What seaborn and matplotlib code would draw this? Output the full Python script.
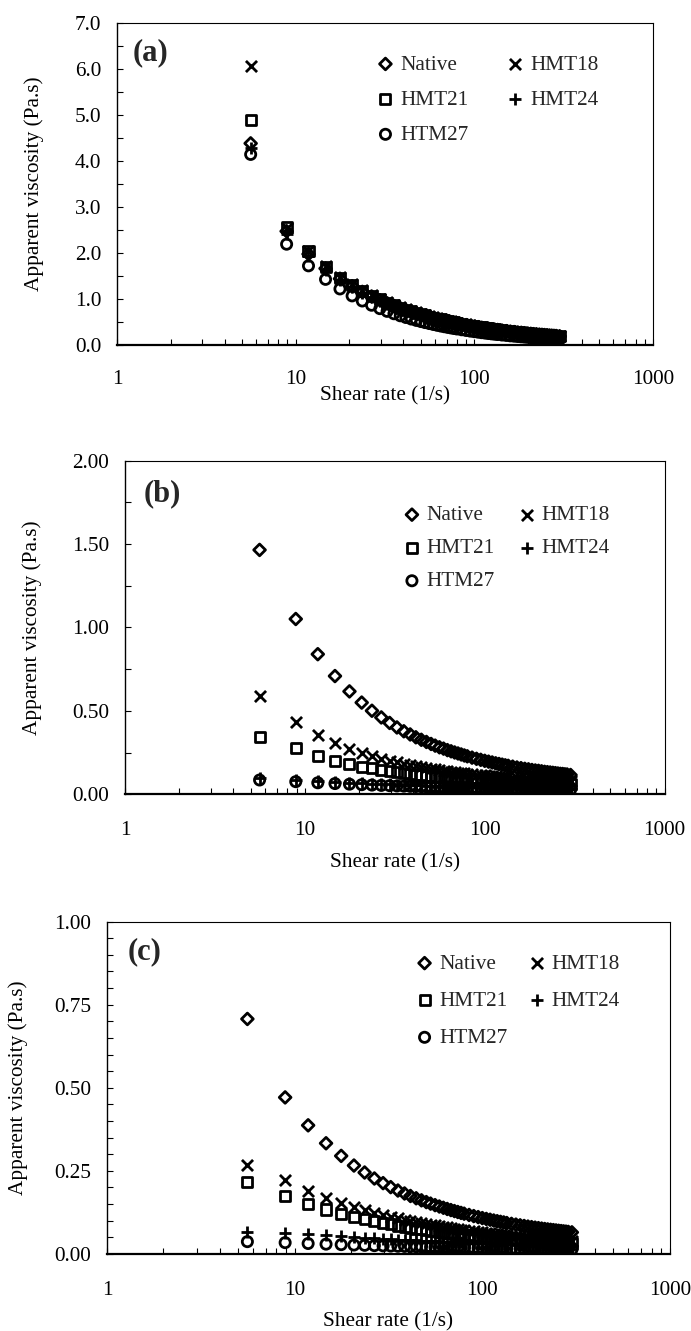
import numpy as np
import pandas as pd
import matplotlib
matplotlib.use('Agg')
import matplotlib.pyplot as plt
from matplotlib.ticker import (MultipleLocator, FixedLocator, FuncFormatter,
                               NullFormatter, LogLocator, FormatStrFormatter)
import seaborn as sns

# shear rate (1/s), same sweep for every sample
shear_rate = [5.6, 8.9, 11.8, 14.7, 17.7, 20.7, 23.6, 26.6, 29.6, 32.5, 35.5, 38.5, 41.4, 44.4,
              47.4, 50.3, 53, 56, 59, 62, 65, 68, 71, 74, 77, 80, 85, 90, 95, 100, 105, 110, 115,
              120, 125, 130, 135, 143, 151, 159, 167, 175, 183, 191, 199, 207, 215, 223, 231,
              239, 247, 255, 263, 271, 279, 287, 300]

# (a)
native_a = [4.38, 2.471, 1.975, 1.662, 1.439, 1.276, 1.154, 1.054, 0.973, 0.907, 0.849, 0.799,
            0.758, 0.719, 0.686, 0.657, 0.632, 0.608, 0.584, 0.564, 0.546, 0.527, 0.512, 0.497,
            0.483, 0.470, 0.450, 0.432, 0.416, 0.401, 0.388, 0.375, 0.363, 0.353, 0.343, 0.334,
            0.326, 0.313, 0.301, 0.291, 0.281, 0.272, 0.265, 0.257, 0.250, 0.243, 0.236, 0.231,
            0.226, 0.221, 0.216, 0.211, 0.207, 0.203, 0.199, 0.196, 0.190]
hmt18_a = [6.05, 2.55, 2.038, 1.715, 1.485, 1.317, 1.191, 1.088, 1.004, 0.936, 0.876, 0.825,
           0.782, 0.742, 0.708, 0.678, 0.652, 0.627, 0.603, 0.582, 0.563, 0.544, 0.528, 0.513,
           0.498, 0.485, 0.464, 0.446, 0.429, 0.414, 0.400, 0.387, 0.375, 0.364, 0.354, 0.345,
           0.336, 0.323, 0.311, 0.300, 0.290, 0.281, 0.273, 0.265, 0.258, 0.251, 0.244, 0.238,
           0.233, 0.228, 0.223, 0.218, 0.214, 0.209, 0.205, 0.202, 0.196]
hmt21_a = [4.89, 2.57, 2.05, 1.689, 1.463, 1.297, 1.173, 1.072, 0.989, 0.922, 0.863, 0.813,
           0.770, 0.731, 0.697, 0.668, 0.642, 0.618, 0.594, 0.573, 0.555, 0.536, 0.520, 0.505,
           0.491, 0.478, 0.457, 0.439, 0.423, 0.408, 0.394, 0.381, 0.369, 0.359, 0.349, 0.340,
           0.331, 0.318, 0.306, 0.296, 0.286, 0.277, 0.269, 0.261, 0.254, 0.247, 0.240, 0.234,
           0.230, 0.225, 0.220, 0.215, 0.211, 0.206, 0.202, 0.199, 0.193]
hmt24_a = [4.27, 2.420, 1.934, 1.628, 1.409, 1.250, 1.130, 1.033, 0.953, 0.888, 0.831, 0.783,
           0.742, 0.704, 0.672, 0.643, 0.619, 0.595, 0.572, 0.552, 0.534, 0.516, 0.501, 0.487,
           0.473, 0.460, 0.440, 0.423, 0.407, 0.393, 0.380, 0.367, 0.356, 0.345, 0.336, 0.327,
           0.319, 0.307, 0.295, 0.285, 0.275, 0.267, 0.259, 0.251, 0.245, 0.238, 0.232, 0.226,
           0.221, 0.216, 0.212, 0.207, 0.203, 0.198, 0.195, 0.192, 0.186]
htm27_a = [4.14, 2.19, 1.720, 1.426, 1.218, 1.067, 0.956, 0.864, 0.790, 0.731, 0.679, 0.635,
           0.598, 0.564, 0.534, 0.509, 0.487, 0.466, 0.446, 0.428, 0.412, 0.397, 0.383, 0.371,
           0.359, 0.348, 0.331, 0.316, 0.302, 0.290, 0.279, 0.268, 0.259, 0.250, 0.242, 0.235,
           0.228, 0.217, 0.208, 0.199, 0.192, 0.185, 0.178, 0.172, 0.167, 0.161, 0.157, 0.152,
           0.148, 0.144, 0.140, 0.137, 0.134, 0.130, 0.127, 0.125, 0.120]

# (b)
native_b = [1.465, 1.051, 0.840, 0.709, 0.617, 0.550, 0.501, 0.461, 0.428, 0.401, 0.378, 0.359,
            0.342, 0.327, 0.314, 0.302, 0.292, 0.282, 0.274, 0.265, 0.258, 0.251, 0.245, 0.239,
            0.233, 0.228, 0.220, 0.213, 0.207, 0.201, 0.196, 0.191, 0.186, 0.182, 0.178, 0.174,
            0.171, 0.166, 0.161, 0.157, 0.153, 0.150, 0.146, 0.143, 0.141, 0.138, 0.135, 0.133,
            0.131, 0.129, 0.127, 0.125, 0.123, 0.122, 0.120, 0.119, 0.116]
hmt18_b = [0.589, 0.435, 0.357, 0.308, 0.273, 0.248, 0.230, 0.214, 0.2015, 0.1914, 0.1825,
           0.1749, 0.1684, 0.1626, 0.1574, 0.1529, 0.1491, 0.1452, 0.1417, 0.1385, 0.1356,
           0.1329, 0.1304, 0.1281, 0.1259, 0.1239, 0.1208, 0.1180, 0.1155, 0.1132, 0.1111,
           0.1091, 0.1073, 0.1056, 0.1041, 0.1026, 0.1013, 0.0993, 0.0975, 0.0958, 0.0943,
           0.0929, 0.0917, 0.0905, 0.0894, 0.0883, 0.0874, 0.0865, 0.0856, 0.0848, 0.0841,
           0.0834, 0.0827, 0.0821, 0.0815, 0.0809, 0.0801]
hmt21_b = [0.345, 0.276, 0.231, 0.2024, 0.1818, 0.1667, 0.1553, 0.1459, 0.1382, 0.1319, 0.1264,
           0.1216, 0.1175, 0.1139, 0.1105, 0.1077, 0.1053, 0.1028, 0.1006, 0.0986, 0.0967,
           0.0949, 0.0933, 0.0918, 0.0904, 0.0891, 0.0871, 0.0852, 0.0836, 0.0821, 0.0807,
           0.0794, 0.0782, 0.0771, 0.0761, 0.0751, 0.0742, 0.0729, 0.0717, 0.0706, 0.0695,
           0.0686, 0.0678, 0.0670, 0.0662, 0.0655, 0.0649, 0.0643, 0.0637, 0.0631, 0.0626,
           0.0621, 0.0617, 0.0613, 0.0609, 0.0605, 0.0599]
hmt24_b = [0.100, 0.0880, 0.0802, 0.0748, 0.0705, 0.0671, 0.0644, 0.0621, 0.0600, 0.0584, 0.0568,
           0.0554, 0.0543, 0.0531, 0.0521, 0.0512, 0.0504, 0.0496, 0.0489, 0.0482, 0.0475,
           0.0469, 0.0463, 0.0458, 0.0452, 0.0447, 0.0440, 0.0433, 0.0426, 0.0420, 0.0414,
           0.0409, 0.0404, 0.0399, 0.0395, 0.0390, 0.0386, 0.0380, 0.0375, 0.0369, 0.0365,
           0.0360, 0.0356, 0.0351, 0.0348, 0.0344, 0.0340, 0.0337, 0.0334, 0.0331, 0.0328,
           0.0326, 0.0323, 0.0320, 0.0318, 0.0316, 0.0312]
htm27_b = [0.086, 0.0760, 0.0693, 0.0646, 0.0609, 0.0579, 0.0556, 0.0536, 0.0519, 0.0504, 0.0491,
           0.0479, 0.0469, 0.0459, 0.0450, 0.0442, 0.0435, 0.0428, 0.0422, 0.0416, 0.0410,
           0.0405, 0.0400, 0.0395, 0.0391, 0.0386, 0.0380, 0.0374, 0.0368, 0.0363, 0.0358,
           0.0353, 0.0349, 0.0345, 0.0341, 0.0337, 0.0334, 0.0328, 0.0324, 0.0319, 0.0315,
           0.0311, 0.0307, 0.0304, 0.0300, 0.0297, 0.0294, 0.0291, 0.0288, 0.0286, 0.0283,
           0.0281, 0.0279, 0.0277, 0.0275, 0.0273, 0.0269]

# (c)
native_c = [0.707, 0.471, 0.387, 0.333, 0.295, 0.266, 0.245, 0.227, 0.213, 0.201, 0.1908,
            0.1819, 0.1744, 0.1675, 0.1613, 0.1560, 0.1514, 0.1468, 0.1427, 0.1389, 0.1353,
            0.1320, 0.1290, 0.1262, 0.1235, 0.1211, 0.1173, 0.1139, 0.1108, 0.1079, 0.1053,
            0.1029, 0.1006, 0.0985, 0.0966, 0.0948, 0.0930, 0.0905, 0.0882, 0.0861, 0.0841,
            0.0823, 0.0807, 0.0791, 0.0777, 0.0763, 0.0750, 0.0738, 0.0727, 0.0717, 0.0707,
            0.0697, 0.0688, 0.0679, 0.0671, 0.0663, 0.0650]
hmt18_c = [0.268, 0.221, 0.1898, 0.1688, 0.1531, 0.1411, 0.1319, 0.1240, 0.1175, 0.1121, 0.1072,
           0.1030, 0.0993, 0.0959, 0.0929, 0.0902, 0.0879, 0.0856, 0.0835, 0.0815, 0.0797,
           0.0779, 0.0764, 0.0749, 0.0735, 0.0721, 0.0701, 0.0682, 0.0665, 0.0649, 0.0635,
           0.0621, 0.0609, 0.0597, 0.0585, 0.0575, 0.0565, 0.0551, 0.0537, 0.0525, 0.0513,
           0.0503, 0.0492, 0.0483, 0.0474, 0.0466, 0.0458, 0.0451, 0.0444, 0.0437, 0.0431,
           0.0425, 0.0419, 0.0414, 0.0409, 0.0404, 0.0396]
hmt21_c = [0.215, 0.175, 0.1503, 0.1337, 0.1212, 0.1117, 0.1044, 0.0982, 0.0930, 0.0887, 0.0849,
           0.0815, 0.0786, 0.0760, 0.0736, 0.0715, 0.0696, 0.0678, 0.0661, 0.0645, 0.0631,
           0.0617, 0.0605, 0.0593, 0.0582, 0.0571, 0.0555, 0.0540, 0.0527, 0.0514, 0.0503,
           0.0492, 0.0482, 0.0473, 0.0464, 0.0455, 0.0447, 0.0436, 0.0425, 0.0415, 0.0406,
           0.0398, 0.0390, 0.0383, 0.0376, 0.0369, 0.0363, 0.0357, 0.0352, 0.0346, 0.0341,
           0.0337, 0.0332, 0.0328, 0.0324, 0.0320, 0.0314]
hmt24_c = [0.067, 0.0640, 0.0591, 0.0556, 0.0528, 0.0505, 0.0487, 0.0471, 0.0457, 0.0445, 0.0434,
           0.0425, 0.0416, 0.0408, 0.0401, 0.0394, 0.0388, 0.0382, 0.0377, 0.0372, 0.0367,
           0.0362, 0.0358, 0.0354, 0.0350, 0.0346, 0.0340, 0.0335, 0.0330, 0.0325, 0.0321,
           0.0317, 0.0313, 0.0309, 0.0305, 0.0302, 0.0299, 0.0294, 0.0290, 0.0286, 0.0282,
           0.0278, 0.0274, 0.0271, 0.0268, 0.0265, 0.0262, 0.0260, 0.0257, 0.0255, 0.0252,
           0.0250, 0.0248, 0.0246, 0.0244, 0.0242, 0.0239]
htm27_c = [0.037, 0.0340, 0.0314, 0.0295, 0.0280, 0.0268, 0.0259, 0.0250, 0.0243, 0.0237, 0.0231,
           0.0226, 0.0221, 0.0217, 0.0213, 0.0209, 0.0206, 0.0203, 0.0200, 0.0197, 0.0195,
           0.0192, 0.0190, 0.0188, 0.0186, 0.0184, 0.0181, 0.0178, 0.0175, 0.0173, 0.0170,
           0.0168, 0.0166, 0.0164, 0.0162, 0.0160, 0.0159, 0.0156, 0.0154, 0.0152, 0.0150,
           0.0148, 0.0146, 0.0144, 0.0142, 0.0141, 0.0139, 0.0138, 0.0137, 0.0135, 0.0134,
           0.0133, 0.0132, 0.0131, 0.0130, 0.0129, 0.0127]

samples = ['Native', 'HMT18', 'HMT21', 'HMT24', 'HTM27']
marker_of = {'Native': 'D', 'HMT18': 'x', 'HMT21': 's', 'HMT24': '+', 'HTM27': 'o'}
size_of = {'Native': 36, 'HMT18': 64, 'HMT21': 52, 'HMT24': 72, 'HTM27': 54}
legend_order = ['Native', 'HMT21', 'HTM27', 'HMT18', 'HMT24']  # column-wise fill

panels = [
    dict(tag='(a)', data=dict(zip(samples, [native_a, hmt18_a, hmt21_a, hmt24_a, htm27_a])),
         ymax=7.0, major=1.0, minor=0.5, fmt='%.1f',
         rect=[0.1693, 0.7408, 0.7757, 0.2421], tagpos=(0.03, 0.907),
         leg=(0.485, 0.901), colsp=1.8, labsp=0.72, xpad=18, xlab=-0.127, ylab=-0.136),
    dict(tag='(b)', data=dict(zip(samples, [native_b, hmt18_b, hmt21_b, hmt24_b, htm27_b])),
         ymax=2.0, major=0.5, minor=0.25, fmt='%.2f',
         rect=[0.1809, 0.4032, 0.7809, 0.2507], tagpos=(0.035, 0.902),
         leg=(0.516, 0.866), colsp=1.08, labsp=0.62, xpad=19.5, xlab=-0.177, ylab=-0.154),
    dict(tag='(c)', data=dict(zip(samples, [native_c, hmt18_c, hmt21_c, hmt24_c, htm27_c])),
         ymax=1.0, major=0.25, minor=0.05, fmt='%.2f',
         rect=[0.1548, 0.0579, 0.8148, 0.2497], tagpos=(0.037, 0.91),
         leg=(0.549, 0.903), colsp=0.96, labsp=0.81, xpad=19.5, xlab=-0.174, ylab=-0.141),
]

sns.set_style('ticks')
plt.rcParams['font.family'] = ['Liberation Serif', 'DejaVu Serif']
fs = 15.3

fig = plt.figure(figsize=(6.91, 13.31), dpi=100)

for p in panels:
    ax = fig.add_axes(p['rect'])
    for name in samples:
        df = pd.DataFrame({'rate': shear_rate, 'visc': p['data'][name]})
        kws = dict(marker=marker_of[name], s=size_of[name], linewidth=2.0,
                   label=name, legend=False, zorder=3, ax=ax)
        if name in ('HMT18', 'HMT24'):
            kws['color'] = 'black'
        else:
            kws.update(color='black', facecolor='none', edgecolor='black')
        sns.scatterplot(data=df, x='rate', y='visc', **kws)

    ax.set_xscale('log')
    ax.set_xlim(1, 1000)
    ax.xaxis.set_major_locator(FixedLocator([1, 10, 100, 1000]))
    ax.xaxis.set_major_formatter(FuncFormatter(lambda v, pos: f'{v:g}'))
    ax.xaxis.set_minor_locator(LogLocator(base=10, subs=np.arange(2, 10)))
    ax.xaxis.set_minor_formatter(NullFormatter())

    ax.set_ylim(0, p['ymax'])
    ax.yaxis.set_major_locator(MultipleLocator(p['major']))
    ax.yaxis.set_minor_locator(MultipleLocator(p['minor']))
    ax.yaxis.set_major_formatter(FormatStrFormatter(p['fmt']))

    ax.tick_params(which='both', direction='in', length=4, width=0.8, color='black',
                   labelcolor='black', labelsize=fs, top=False, right=False)
    ax.tick_params(axis='x', which='both', pad=p['xpad'])
    ax.tick_params(axis='y', which='both', pad=11.5)

    for side, sp in ax.spines.items():
        sp.set_visible(True)
        sp.set_color('black')
        sp.set_linewidth(0.8)
    ax.spines['bottom'].set_linewidth(1.6)
    ax.spines['left'].set_linewidth(1.0)

    ax.set_xlabel('Shear rate (1/s)', fontsize=fs, color='black')
    ax.set_ylabel('Apparent viscosity (Pa.s)', fontsize=fs, color='black')
    ax.xaxis.set_label_coords(0.5, p['xlab'])
    ax.yaxis.set_label_coords(p['ylab'], 0.5)

    ax.text(p['tagpos'][0], p['tagpos'][1], p['tag'], transform=ax.transAxes,
            fontsize=22, fontweight='bold', ha='left', va='center')

    handles, labels = ax.get_legend_handles_labels()
    lookup = dict(zip(labels, handles))
    ax.legend([lookup[n] for n in legend_order], legend_order, ncol=2, frameon=False,
              fontsize=fs, loc='upper left', bbox_to_anchor=p['leg'], borderpad=0,
              borderaxespad=0, handlelength=0.8, handletextpad=0.3,
              columnspacing=p['colsp'], labelspacing=p['labsp'], scatterpoints=1)

fig.savefig('out.png', dpi=100)
